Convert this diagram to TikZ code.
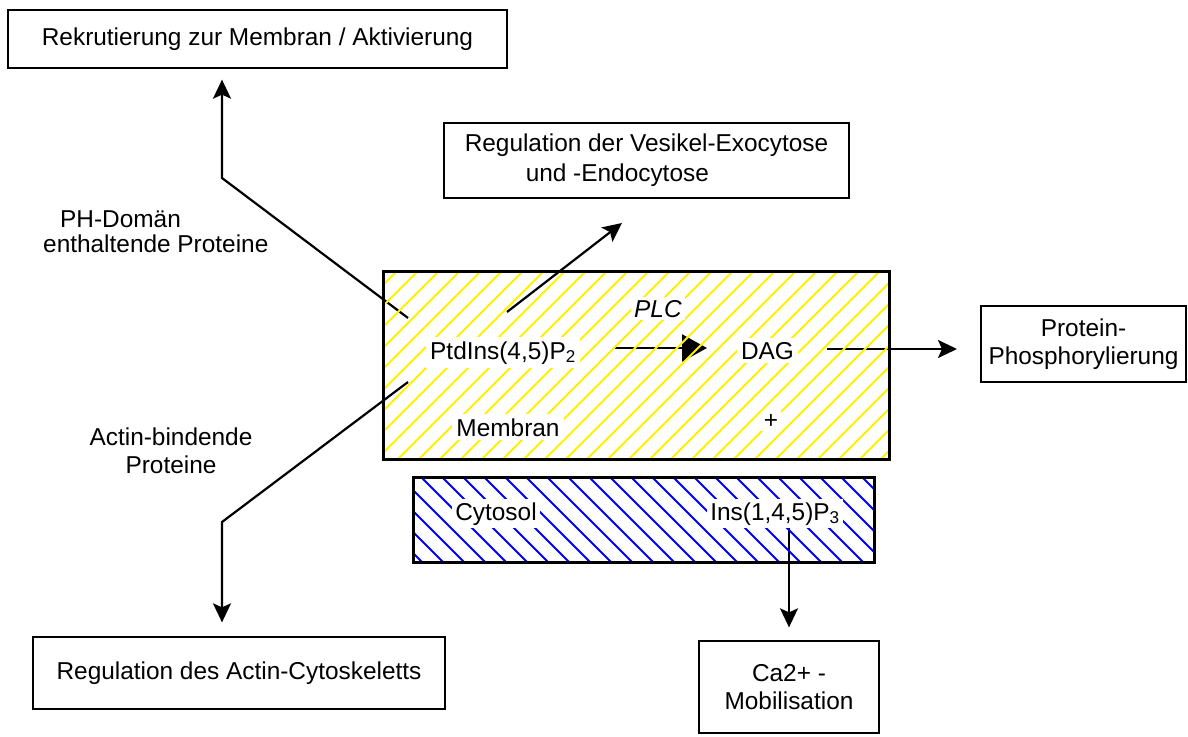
\documentclass[tikz,border=0pt]{standalone}
\usepackage{fontspec}
\setmainfont{Liberation Sans}
\usetikzlibrary{arrows.meta,calc}
\pgfdeclarelayer{bg}
\pgfdeclarelayer{hatch}
\pgfdeclarelayer{front}
\pgfsetlayers{bg,main,hatch,front}

\begin{document}
\begin{tikzpicture}[x=1pt,y=-1pt,
  txt/.style={font=\fontsize{24.4}{28}\selectfont, inner sep=0pt},
  box/.style={txt, draw, line width=1.3pt, fill=white, align=center},
  lbl/.style={txt, fill=white, inner sep=4pt},
  conn/.style={line width=2.2pt, -{Stealth[length=19pt,width=18pt,inset=4pt]}},
  yhatch/.style={yellow, line width=2pt},
  bhatch/.style={blue, line width=2pt},
  region/.style={fill=white, inner sep=0pt}
]
\useasboundingbox (0,0) rectangle (1188,736);

% compartments
\begin{pgfonlayer}{bg}
  \node[region, minimum width=505pt, minimum height=187pt] (mem) at (636.5,365.5) {};
  \node[region, minimum width=460pt, minimum height=84pt] (cyt) at (644,520) {};
\end{pgfonlayer}

% outcome boxes
\node[box, minimum width=499pt, minimum height=58pt] (rek) at (257.5,39)
  {Rekrutierung zur Membran / Aktivierung};
\node[box, minimum width=405pt, minimum height=75pt, align=left] (ves) at (646.5,160.5)
  {Regulation der Vesikel-Exocytose\\[2pt]\hspace*{61pt}und -Endocytose};
\node[box, minimum width=205pt, minimum height=76pt] (prot) at (1083.5,344)
  {Protein-\\Phosphorylierung};
\node[box, minimum width=412pt, minimum height=72pt] (act) at (239,673)
  {Regulation des Actin-Cytoskeletts};
\node[box, minimum width=180pt, minimum height=92pt] (ca) at (789,687)
  {Ca2+ -\\Mobilisation};

% side labels
\node[txt, align=left, anchor=north west] (phl) at (43,211)
  {\hspace*{17pt}PH-Domän\\[-3pt]enthaltende Proteine};
\node[txt, align=center, anchor=north] (acl) at (171,428)
  {Actin-bindende\\Proteine};

% labels inside the compartments
\begin{pgfonlayer}{front}
  \node[lbl, anchor=base] (ptd) at (503,359) {PtdIns(4,5)P\textsubscript{2}};
  \node[lbl, anchor=base, inner sep=3pt] (plc) at (658,317) {\textit{PLC}};
  \node[lbl, anchor=base] (dag) at (767.5,359) {DAG};
  \node[lbl, anchor=base] (memt) at (508,436) {Membran};
  \node[lbl, inner sep=3pt] (plus) at (771,421) {+};
  \node[lbl, anchor=base, inner sep=3pt] (cyto) at (496,520) {Cytosol};
  \node[lbl, anchor=base, inner sep=3pt] (ins) at (775,520) {Ins(1,4,5)P\textsubscript{3}};
\end{pgfonlayer}

% connectors
\coordinate (phA) at (408,318);
\coordinate (phB) at (222,178);
\draw[conn, shorten >=11pt] (phA) -- (phB) -- (rek.south -| phB);

\coordinate (acA) at (408,382);
\coordinate (acB) at (222,522);
\draw[conn, shorten >=14pt] (acA) -- (acB) -- (act.north -| acB);

\coordinate (vesA) at (507,312);
\coordinate (vesB) at (622,223);
\draw[conn] (vesA) -- (vesB);

\coordinate (plcA) at (615,348);
\coordinate (plcB) at (707,348);
\draw[line width=2.2pt, -{Triangle[length=25pt,width=27pt]}] (plcA) -- (plcB);

\coordinate (dagA) at (827,349);
\coordinate (dagB) at (957,349);
\draw[conn] (dagA) -- (dagB);

\draw[conn, shorten >=13pt] (ins.south -| ca.north) -- (ca.north);

% hatching and borders of the compartments
\begin{pgfonlayer}{hatch}
  \begin{scope}
    \clip (mem.south west) rectangle (mem.north east);
    \foreach \k in {31,...,64}{
      \pgfmathsetmacro\c{17+21*\k}
      \draw[yhatch] (\c-262,262) -- (\c-470,470);
    }
  \end{scope}
  \draw[line width=3pt] (mem.south west) rectangle (mem.north east);
  \begin{scope}
    \clip (cyt.south west) rectangle (cyt.north east);
    \foreach \k in {-8,...,19}{
      \pgfmathsetmacro\c{7+21*\k}
      \draw[bhatch] (\c+470,470) -- (\c+570,570);
    }
  \end{scope}
  \draw[line width=3pt] (cyt.south west) rectangle (cyt.north east);
\end{pgfonlayer}
\end{tikzpicture}
\end{document}
